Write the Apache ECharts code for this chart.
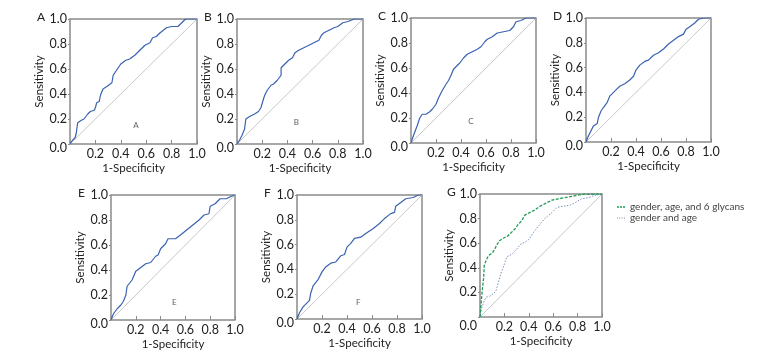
<!DOCTYPE html>
<html>
<head>
<meta charset="utf-8">
<script src="https://cdn.jsdelivr.net/npm/echarts@6/dist/echarts.min.js"></script>
<style>html,body{margin:0;padding:0;background:#fff}#chart{width:770px;height:355px}</style>
</head>
<body>
<div id="chart"></div>
<script>
// ---------- DATA ----------
const panelNames = ['A','B','C','D','E','F','G'];
const tickValues = [0, 0.2, 0.4, 0.6, 0.8, 1.0];
const tickLabels = ['0.0','0.2','0.4','0.6','0.8','1.0'];
const xAxisTitle = '1-Specificity';
const yAxisTitle = 'Sensitivity';
const legendNames = ['gender, age, and 6 glycans', 'gender and age'];
const innerLabels = ['A','B','C','','E','F',''];
const innerLabelX = [0.52, 0.47, 0.48, null, 0.51, 0.49, null];
const innerLabelY = [0.15, 0.17, 0.17, null, 0.14, 0.13, null];

const A_fpr = [0,0.02,0.04,0.05,0.06,0.09,0.11,0.14,0.16,0.19,0.20,0.21,0.23,0.24,0.26,0.29,0.33,0.34,0.38,0.40,0.44,0.47,0.51,0.55,0.59,0.63,0.65,0.68,0.71,0.76,0.80,0.85,0.88,0.91,1.0];
const A_tpr = [0,0.03,0.05,0.09,0.17,0.19,0.20,0.24,0.26,0.27,0.29,0.33,0.34,0.39,0.44,0.46,0.49,0.55,0.61,0.64,0.67,0.68,0.71,0.75,0.79,0.81,0.85,0.86,0.89,0.93,0.94,0.94,0.97,1.0,1.0];

const B_fpr = [0,0.02,0.04,0.06,0.07,0.10,0.12,0.14,0.17,0.19,0.21,0.22,0.24,0.27,0.29,0.32,0.35,0.35,0.38,0.41,0.44,0.46,0.49,0.53,0.57,0.61,0.65,0.67,0.69,0.73,0.77,0.80,0.84,0.88,0.93,1.0];
const B_tpr = [0,0.03,0.07,0.12,0.20,0.22,0.23,0.24,0.26,0.29,0.36,0.39,0.43,0.47,0.48,0.51,0.55,0.61,0.64,0.67,0.69,0.73,0.75,0.77,0.79,0.81,0.83,0.87,0.89,0.91,0.93,0.94,0.97,0.98,1.0,1.0];

const C_fpr = [0,0.02,0.035,0.05,0.07,0.09,0.12,0.15,0.17,0.20,0.22,0.25,0.28,0.30,0.32,0.34,0.37,0.39,0.42,0.45,0.49,0.53,0.56,0.59,0.61,0.65,0.69,0.74,0.79,0.82,0.84,0.88,0.92,1.0];
const C_tpr = [0,0.06,0.10,0.14,0.20,0.23,0.23,0.25,0.27,0.31,0.36,0.42,0.47,0.50,0.54,0.59,0.62,0.64,0.68,0.71,0.73,0.75,0.77,0.81,0.83,0.85,0.88,0.89,0.90,0.93,0.97,0.98,1.0,1.0];

const D_fpr = [0,0.02,0.04,0.06,0.09,0.10,0.12,0.14,0.17,0.19,0.22,0.25,0.27,0.31,0.35,0.38,0.40,0.43,0.47,0.50,0.54,0.58,0.62,0.66,0.70,0.74,0.78,0.80,0.83,0.87,0.90,0.94,1.0];
const D_tpr = [0,0.05,0.09,0.13,0.15,0.20,0.25,0.28,0.32,0.37,0.40,0.43,0.45,0.47,0.50,0.53,0.58,0.62,0.65,0.66,0.70,0.72,0.75,0.79,0.82,0.85,0.87,0.91,0.93,0.96,0.99,1.0,1.0];

const E_fpr = [0,0.02,0.05,0.08,0.10,0.12,0.13,0.17,0.20,0.24,0.28,0.32,0.36,0.38,0.40,0.44,0.46,0.52,0.56,0.61,0.66,0.71,0.75,0.79,0.80,0.84,0.88,0.93,0.97,1.0];
const E_tpr = [0,0.05,0.09,0.12,0.15,0.20,0.27,0.32,0.39,0.42,0.45,0.46,0.51,0.52,0.57,0.61,0.65,0.65,0.68,0.72,0.76,0.80,0.84,0.85,0.91,0.93,0.97,0.97,0.99,1.0];

const F_fpr = [0,0.02,0.05,0.07,0.10,0.11,0.13,0.17,0.20,0.23,0.27,0.31,0.35,0.38,0.40,0.43,0.46,0.51,0.55,0.61,0.66,0.70,0.75,0.78,0.79,0.83,0.87,0.93,0.97,1.0];
const F_tpr = [0,0.05,0.10,0.12,0.15,0.21,0.27,0.32,0.38,0.42,0.45,0.46,0.51,0.52,0.58,0.61,0.65,0.66,0.69,0.73,0.77,0.81,0.85,0.86,0.91,0.94,0.97,0.98,1.0,1.0];

const G1_fpr = [0,0.01,0.02,0.03,0.035,0.05,0.07,0.10,0.12,0.14,0.16,0.19,0.23,0.26,0.29,0.31,0.34,0.37,0.41,0.45,0.49,0.53,0.59,0.64,0.69,0.75,0.80,0.86,1.0];
const G1_tpr = [0,0.12,0.23,0.32,0.42,0.46,0.50,0.52,0.55,0.59,0.62,0.64,0.66,0.69,0.72,0.75,0.78,0.83,0.85,0.87,0.90,0.92,0.95,0.96,0.97,0.98,0.99,1.0,1.0];

const G2_fpr = [0,0.01,0.03,0.05,0.08,0.11,0.13,0.15,0.17,0.20,0.22,0.26,0.30,0.33,0.37,0.40,0.44,0.48,0.53,0.59,0.63,0.68,0.74,0.78,0.83,0.89,0.94,1.0];
const G2_tpr = [0,0.06,0.12,0.16,0.17,0.19,0.21,0.28,0.35,0.43,0.49,0.51,0.55,0.59,0.61,0.63,0.69,0.74,0.80,0.85,0.89,0.90,0.91,0.93,0.96,0.97,0.99,1.0];

const diagX = [0, 1];
const diagY = [0, 1];

// ---------- LAYOUT ----------
const grids = [
  {left: 70,  top: 19,  width: 127, height: 125},
  {left: 237, top: 19,  width: 126, height: 125},
  {left: 411, top: 18,  width: 125, height: 125},
  {left: 586, top: 18,  width: 125, height: 124},
  {left: 111, top: 195, width: 124, height: 125},
  {left: 297, top: 195, width: 125, height: 124},
  {left: 480, top: 194, width: 122, height: 123}
];
const curves = [
  [[A_fpr, A_tpr]], [[B_fpr, B_tpr]], [[C_fpr, C_tpr]], [[D_fpr, D_tpr]],
  [[E_fpr, E_tpr]], [[F_fpr, F_tpr]], [[G1_fpr, G1_tpr], [G2_fpr, G2_tpr]]
];
const FONT = 'Lato';
const TXT = '#222';
const GREEN = '#1e9c57';
const GREY_BLUE = '#7b92bd';
const TICK_FS = 12.5;
const zip = (xs, ys) => xs.map((x, i) => [x, ys[i]]);
const fmt = v => { const i = tickValues.findIndex(t => Math.abs(t - v) < 1e-6); return i >= 0 ? tickLabels[i] : ''; };

const option = {
  animation: false,
  backgroundColor: '#fff',
  grid: [], xAxis: [], yAxis: [], series: [], graphic: [],
  legend: {
    left: 612, top: 197, orient: 'vertical',
    itemWidth: 8, itemHeight: 8, itemGap: 1,
    textStyle: {fontFamily: FONT, fontSize: 10, color: '#444', lineHeight: 9},
    data: [
      {name: legendNames[0], icon: 'path://M0,0h2v1.4h-2z M3,0h2v1.4h-2z M6,0h2v1.4h-2z', itemStyle: {color: GREEN}},
      {name: legendNames[1], icon: 'path://M0,0h1v1h-1z M2.3,0h1v1h-1z M4.6,0h1v1h-1z M6.9,0h1.1v1h-1.1z', itemStyle: {color: GREY_BLUE}}
    ]
  }
};

grids.forEach((g, i) => {
  const isG = i === 6;
  option.grid.push(Object.assign({show: true, borderColor: '#8a8a8a', borderWidth: 1.5, backgroundColor: 'transparent'}, g));
  option.xAxis.push({
    type: 'value', gridIndex: i, min: 0, max: 1, interval: 0.2,
    name: xAxisTitle, nameLocation: 'middle', nameGap: 18,
    nameTextStyle: {fontFamily: FONT, fontSize: 11.5, color: TXT},
    axisLine: {show: false},
    axisTick: {show: true, inside: true, length: 4, lineStyle: {color: '#8a8a8a', width: 1}},
    splitLine: {show: false},
    axisLabel: {
      fontFamily: FONT, fontSize: TICK_FS, color: TXT, margin: 3,
      formatter: v => (v === 0 ? '' : fmt(v))
    }
  });
  option.yAxis.push({
    type: 'value', gridIndex: i, min: 0, max: 1, interval: 0.2,
    name: yAxisTitle, nameLocation: 'middle', nameGap: 21,
    nameTextStyle: {fontFamily: FONT, fontSize: 11.5, color: TXT},
    axisLine: {show: false},
    axisTick: {show: true, inside: false, length: 2, lineStyle: {color: '#8a8a8a', width: 1}},
    splitLine: {show: false},
    axisLabel: {
      fontFamily: FONT, fontSize: TICK_FS, color: TXT, margin: 3,
      formatter: v => (v === 0 ? '{z|' + fmt(v) + '}' : fmt(v)),
      rich: {z: {fontFamily: FONT, fontSize: TICK_FS, color: TXT, padding: [isG ? 18 : 8, 0, 0, 0]}}
    }
  });
  // diagonal reference
  option.series.push({
    type: 'line', xAxisIndex: i, yAxisIndex: i, data: zip(diagX, diagY),
    symbol: 'none', silent: true, lineStyle: {color: '#c8c8c8', width: 1}, z: 1
  });
  if (!isG) {
    option.series.push({
      type: 'line', xAxisIndex: i, yAxisIndex: i, data: zip(curves[i][0][0], curves[i][0][1]),
      symbol: 'none', lineStyle: {color: '#3b62b1', width: 1.2}, z: 3
    });
  } else {
    option.series.push({
      name: legendNames[0], type: 'line', xAxisIndex: i, yAxisIndex: i,
      data: zip(curves[i][0][0], curves[i][0][1]), symbol: 'none',
      itemStyle: {color: GREEN},
      lineStyle: {color: GREEN, width: 1.3, type: [3, 1.5]}, z: 4
    });
    option.series.push({
      name: legendNames[1], type: 'line', xAxisIndex: i, yAxisIndex: i,
      data: zip(curves[i][1][0], curves[i][1][1]), symbol: 'none',
      itemStyle: {color: GREY_BLUE},
      lineStyle: {color: GREY_BLUE, width: 1, type: [1.5, 1.5]}, z: 3
    });
  }
  if (innerLabels[i]) {
    option.series.push({
      type: 'scatter', xAxisIndex: i, yAxisIndex: i, symbolSize: 0, silent: true,
      data: [[innerLabelX[i], innerLabelY[i]]],
      label: {show: true, position: 'inside', formatter: innerLabels[i], fontFamily: FONT, fontSize: 8, color: '#333'}
    });
  }
  // panel letter
  option.graphic.push({
    type: 'text', left: g.left - 33, top: g.top - 8,
    style: {text: panelNames[i], font: '12px ' + FONT, fill: TXT}
  });
});

const chart = echarts.init(document.getElementById('chart'), null, {renderer: 'canvas'});
chart.setOption(option);
</script>
</body>
</html>
